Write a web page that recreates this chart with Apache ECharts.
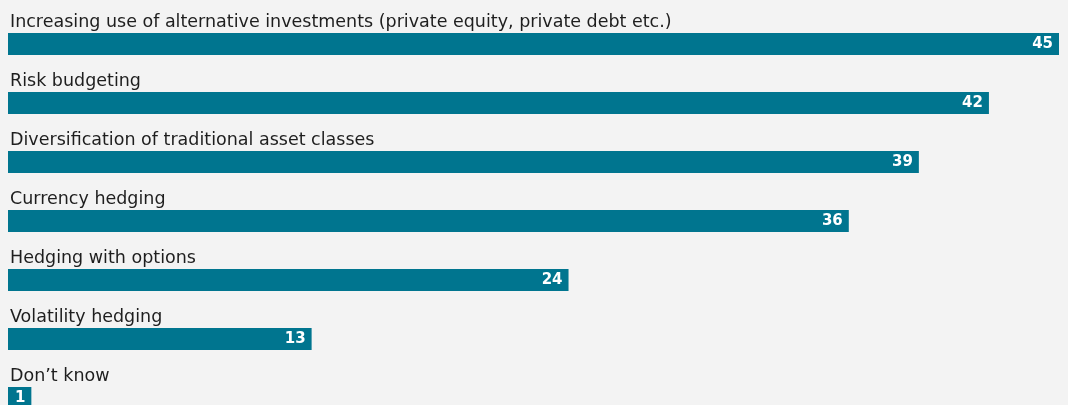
<!DOCTYPE html>
<html>
<head>
<meta charset="utf-8">
<script src="https://cdn.jsdelivr.net/npm/echarts@6/dist/echarts.min.js"></script>
<style>
  html, body { margin: 0; padding: 0; background: #f3f3f3; }
  #chart { width: 1068px; height: 405px; }
</style>
</head>
<body>
<div id="chart"></div>
<script>
// Answer options, listed top to bottom
const categories = [
  'Increasing use of alternative investments (private equity, private debt etc.)',
  'Risk budgeting',
  'Diversification of traditional asset classes',
  'Currency hedging',
  'Hedging with options',
  'Volatility hedging',
  'Don\u2019t know'
];
// Share of respondents, %
const values = [45, 42, 39, 36, 24, 13, 1];

const BAR_COLOR = '#00758f';
const FONT = '"DejaVu Sans", sans-serif';

const chart = echarts.init(document.getElementById('chart'), null, { renderer: 'canvas' });

chart.setOption({
  backgroundColor: '#f3f3f3',
  animation: false,
  // the last row runs past the bottom edge, so let the grid extend outside the canvas
  grid: {
    left: 8, top: 14.5, width: 1051, height: 413,
    containLabel: false, outerBoundsMode: 'none'
  },
  xAxis: {
    type: 'value', min: 0, max: 45,
    show: false
  },
  yAxis: {
    type: 'category', inverse: true, data: categories,
    show: false
  },
  series: [
    {
      // value bars with the figure printed at the inner end
      type: 'bar',
      data: values,
      barWidth: 22,
      itemStyle: { color: BAR_COLOR },
      label: {
        show: true,
        position: 'insideRight',
        distance: 6,
        color: '#ffffff',
        fontFamily: FONT,
        fontWeight: 'bold',
        fontSize: 15
      },
      z: 2
    },
    {
      // transparent twin bars that carry the category name above each bar
      type: 'bar',
      data: values,
      barWidth: 22,
      barGap: '-100%',
      itemStyle: { color: 'rgba(0,0,0,0)' },
      silent: true,
      label: {
        show: true,
        position: [2, -2],
        align: 'left',
        verticalAlign: 'bottom',
        formatter: p => categories[p.dataIndex],
        color: '#1e1e1e',
        fontFamily: FONT,
        fontSize: 17.5
      },
      z: 3
    }
  ]
});
</script>
</body>
</html>
